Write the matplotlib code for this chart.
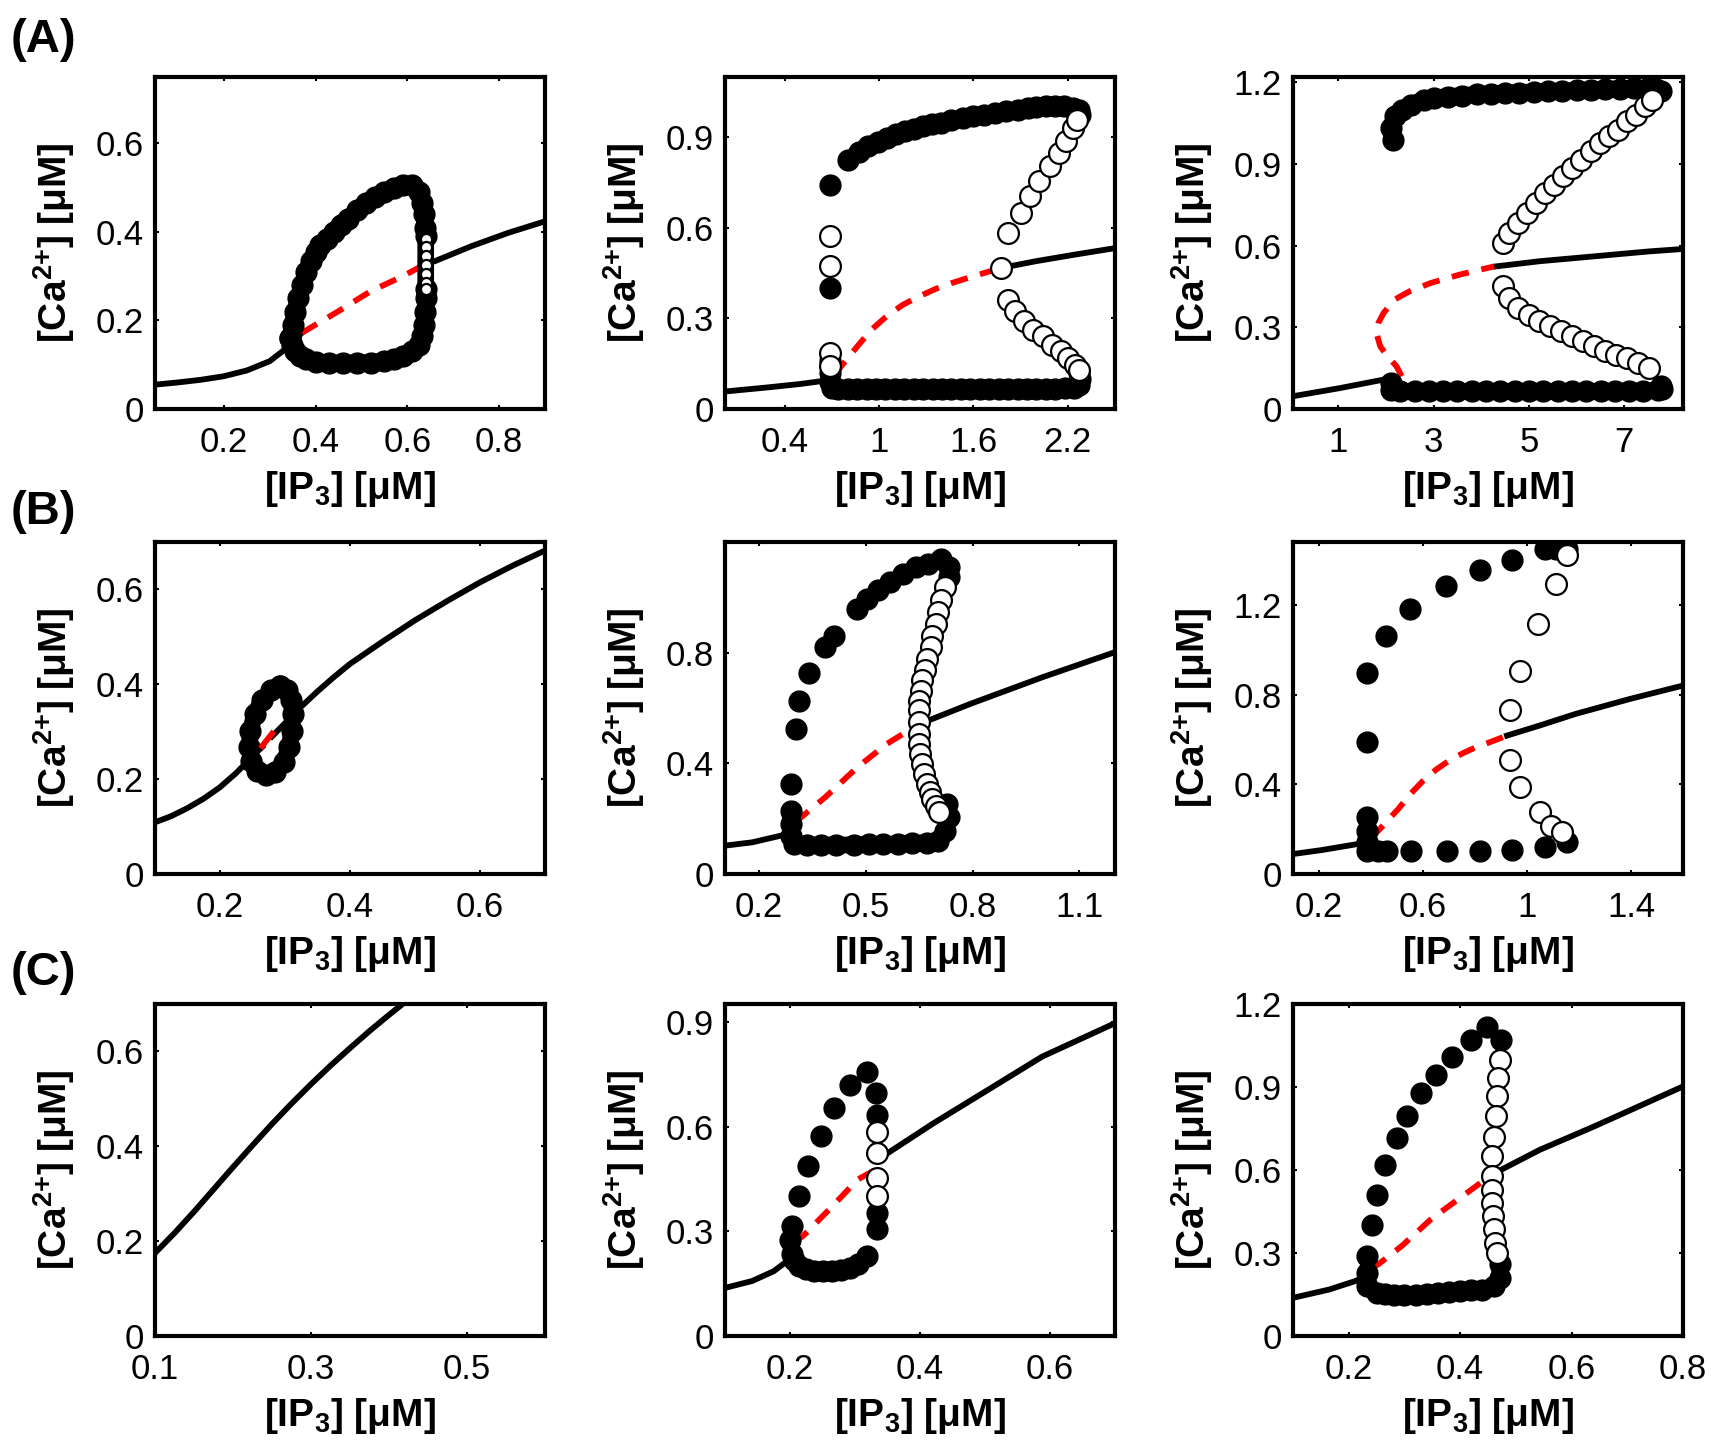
import numpy as np
import matplotlib
matplotlib.use("Agg")
import matplotlib.pyplot as plt

plt.rcParams['font.family'] = ['Liberation Sans', 'DejaVu Sans']
plt.rcParams['mathtext.fontset'] = 'custom'
plt.rcParams['mathtext.rm'] = 'Liberation Sans:bold'
plt.rcParams['mathtext.it'] = 'Liberation Sans:bold'
plt.rcParams['mathtext.bf'] = 'Liberation Sans:bold'
plt.rcParams['mathtext.default'] = 'rm'

nan = np.nan

# ---------------- (A) left ----------------
a1_xlim, a1_ylim = (0.05, 0.9), (0, 0.75)
a1_xticks, a1_yticks = [0.2, 0.4, 0.6, 0.8], [0, 0.2, 0.4, 0.6]
a1_line_x = [0.05, 0.1, 0.15, 0.2, 0.25, 0.3, 0.34, 0.37, nan, 0.635, 0.66, 0.74, 0.82, 0.90]
a1_line_y = [0.055, 0.06, 0.066, 0.074, 0.087, 0.108, 0.14, 0.172, nan,
             0.325, 0.334, 0.368, 0.398, 0.424]
a1_red_x = [0.37, 0.45, 0.52, 0.59, 0.635]
a1_red_y = [0.172, 0.221, 0.266, 0.300, 0.325]
a1_fill_x = [0.345, 0.35, 0.355, 0.362, 0.37, 0.38, 0.39, 0.40, 0.41, 0.425, 0.44, 0.455, 0.47,
             0.49, 0.51, 0.53, 0.55, 0.57, 0.59, 0.61, 0.625, 0.632, 0.636, 0.638, 0.64,
             0.64, 0.64, 0.638, 0.636, 0.632, 0.625, 0.61, 0.59, 0.57, 0.55, 0.52, 0.49, 0.46,
             0.43, 0.40, 0.38, 0.365, 0.355, 0.348, 0.345]
a1_fill_y = [0.16, 0.19, 0.22, 0.25, 0.28, 0.31, 0.335, 0.355, 0.37, 0.385, 0.40, 0.415, 0.43,
             0.45, 0.465, 0.48, 0.49, 0.50, 0.505, 0.505, 0.49, 0.465, 0.44, 0.41, 0.39,
             0.27, 0.25, 0.22, 0.19, 0.165, 0.145, 0.13, 0.12, 0.113, 0.108, 0.105, 0.104, 0.104,
             0.104, 0.106, 0.112, 0.12, 0.132, 0.145, 0.16]
a1_open_x = [0.64, 0.64, 0.64, 0.64, 0.64, 0.64, 0.64]
a1_open_y = [0.385, 0.365, 0.345, 0.325, 0.305, 0.285, 0.27]

# ---------------- (A) middle ----------------
a2_xlim, a2_ylim = (0.02, 2.5), (0, 1.1)
a2_xticks, a2_yticks = [0.4, 1, 1.6, 2.2], [0, 0.3, 0.6, 0.9]
a2_line_x = [0.02, 0.3, 0.5, 0.7, nan, 1.773, 2.0, 2.25, 2.5]
a2_line_y = [0.058, 0.072, 0.083, 0.097, nan, 0.467, 0.49, 0.512, 0.533]
a2_red_x = [0.72, 0.758, 0.862, 0.95, 1.047, 1.15, 1.254, 1.36, 1.46, 1.6, 1.773]
a2_red_y = [0.11, 0.141, 0.208, 0.262, 0.307, 0.345, 0.373, 0.398, 0.417, 0.44, 0.467]
a2_top_x = [0.804, 0.87, 0.931, 0.99, 1.047, 1.105, 1.162, 1.22, 1.278, 1.335, 1.393, 1.46, 1.531,
            1.60, 1.67, 1.74, 1.808, 1.88, 1.946, 2.0, 2.061, 2.12, 2.177, 2.23, 2.27, 2.28]
a2_top_y = [0.826, 0.85, 0.87, 0.885, 0.898, 0.91, 0.92, 0.929, 0.937, 0.943, 0.948, 0.956, 0.964,
            0.97, 0.975, 0.98, 0.986, 0.992, 0.997, 1.0, 1.003, 1.004, 1.003, 0.998, 0.99, 0.975]
a2_low_x = [0.689, 0.689, 0.689, 0.70, 0.74, 0.80, 0.86, 0.92, 0.98, 1.04, 1.10, 1.16, 1.22, 1.28,
            1.34, 1.40, 1.46, 1.52, 1.58, 1.64, 1.70, 1.76, 1.82, 1.88, 1.94, 2.00, 2.06, 2.12,
            2.18, 2.24, 2.27, 2.28, 2.27]
a2_low_y = [0.16, 0.12, 0.09, 0.07, 0.066, 0.066, 0.066, 0.066, 0.066, 0.066, 0.066, 0.066, 0.066,
            0.066, 0.066, 0.066, 0.066, 0.066, 0.066, 0.066, 0.066, 0.066, 0.066, 0.066, 0.066,
            0.066, 0.066, 0.067, 0.068, 0.07, 0.08, 0.10, 0.12]
a2_dot_x = [0.689, 0.689]
a2_dot_y = [0.743, 0.401]
a2_open_x = [0.689, 0.689, 0.689, 0.689, 1.773,
             1.820, 1.900, 1.958, 2.016, 2.085, 2.143, 2.189, 2.235, 2.258,
             1.82, 1.866, 1.924, 1.981, 2.039, 2.097, 2.154, 2.20, 2.246, 2.269]
a2_open_y = [0.572, 0.473, 0.186, 0.141, 0.467,
             0.583, 0.649, 0.705, 0.754, 0.804, 0.848, 0.887, 0.931, 0.959,
             0.362, 0.324, 0.29, 0.263, 0.241, 0.213, 0.191, 0.169, 0.147, 0.13]

# ---------------- (A) right ----------------
a3_xlim, a3_ylim = (0.05, 8.23), (0, 1.22)
a3_xticks, a3_yticks = [1, 3, 5, 7], [0, 0.3, 0.6, 0.9, 1.2]
a3_line_x = [0.05, 1.04, 1.95, nan, 4.31, 5.22, 6.37, 7.51, 8.23]
a3_line_y = [0.047, 0.077, 0.108, nan, 0.524, 0.543, 0.561, 0.579, 0.588]
a3_red_x = [2.33, 2.22, 2.03, 1.88, 1.80, 1.84, 1.95, 2.18, 2.49, 2.94, 3.55, 4.27]
a3_red_y = [0.12, 0.157, 0.194, 0.23, 0.279, 0.316, 0.353, 0.402, 0.432, 0.463, 0.494, 0.524]
a3_top_x = [2.14, 2.10, 2.18, 2.33, 2.52, 2.79, 3.0, 3.3, 3.6, 3.9, 4.2, 4.5, 4.8, 5.1, 5.4, 5.7,
            6.0, 6.3, 6.6, 6.9, 7.2, 7.5, 7.66, 7.77]
a3_top_y = [0.99, 1.033, 1.076, 1.10, 1.118, 1.137, 1.143, 1.148, 1.152, 1.156, 1.159, 1.161,
            1.163, 1.165, 1.167, 1.169, 1.171, 1.173, 1.175, 1.177, 1.178, 1.178, 1.175, 1.167]
a3_low_x = [2.10, 2.10, 2.3, 2.6, 2.9, 3.2, 3.5, 3.8, 4.1, 4.4, 4.7, 5.0, 5.3, 5.6, 5.9, 6.2,
            6.5, 6.8, 7.1, 7.4, 7.7, 7.8, 7.77]
a3_low_y = [0.096, 0.07, 0.065, 0.065, 0.065, 0.065, 0.065, 0.065, 0.065, 0.065, 0.065, 0.065,
            0.065, 0.065, 0.065, 0.065, 0.065, 0.066, 0.066, 0.067, 0.068, 0.075, 0.085]
a3_open_x = [4.46, 4.58, 4.77, 4.96, 5.15, 5.34, 5.53, 5.72, 5.91, 6.10, 6.29, 6.48, 6.67, 6.86,
             7.05, 7.24, 7.43, 7.58,
             4.46, 4.58, 4.77, 4.99, 5.22, 5.45, 5.68, 5.91, 6.14, 6.37, 6.59, 6.82, 7.05,
             7.28, 7.51]
a3_open_y = [0.61, 0.647, 0.684, 0.72, 0.757, 0.794, 0.824, 0.855, 0.886, 0.916, 0.947, 0.978,
             1.002, 1.027, 1.057, 1.082, 1.112, 1.137,
             0.451, 0.408, 0.371, 0.347, 0.322, 0.304, 0.285, 0.267, 0.249, 0.23, 0.212, 0.20,
             0.187, 0.169, 0.151]

# ---------------- (B) left ----------------
b1_xlim, b1_ylim = (0.1, 0.7), (0, 0.7)
b1_xticks, b1_yticks = [0.2, 0.4, 0.6], [0, 0.2, 0.4, 0.6]
b1_line_x = [0.1, 0.125, 0.15, 0.175, 0.2, 0.225, 0.25, 0.265, nan,
             0.28, 0.3, 0.325, 0.35, 0.375, 0.4, 0.45, 0.5, 0.55, 0.6, 0.65, 0.7]
b1_line_y = [0.109, 0.122, 0.139, 0.159, 0.183, 0.213, 0.248, 0.268, nan,
             0.29, 0.318, 0.353, 0.385, 0.415, 0.443, 0.49, 0.535, 0.576, 0.615, 0.65, 0.682]
b1_red_x = [0.265, 0.28]
b1_red_y = [0.27, 0.296]
b1_loop_x = [0.2925, 0.3037, 0.3093, 0.3120, 0.3104, 0.3065, 0.2981, 0.2841, 0.2702, 0.2562,
             0.2479, 0.2451, 0.2468, 0.2535, 0.2646, 0.2786, 0.2925]
b1_loop_y = [0.397, 0.387, 0.366, 0.338, 0.3025, 0.267, 0.236, 0.2146, 0.2096, 0.218, 0.239,
             0.267, 0.3025, 0.338, 0.366, 0.387, 0.397]

# ---------------- (B) middle ----------------
b2_xlim, b2_ylim = (0.105, 1.2), (0, 1.2)
b2_xticks, b2_yticks = [0.2, 0.5, 0.8, 1.1], [0, 0.4, 0.8]
b2_line_x = [0.105, 0.182, 0.263, 0.294, nan, 0.641, 0.794, 0.998, 1.2]
b2_line_y = [0.1025, 0.1146, 0.139, 0.147, nan, 0.537, 0.615, 0.712, 0.802]
b2_red_x = [0.30, 0.319, 0.386, 0.477, 0.559, 0.636]
b2_red_y = [0.19, 0.205, 0.277, 0.386, 0.47, 0.531]
b2_top_x = [0.289, 0.304, 0.312, 0.340, 0.386, 0.411, 0.477, 0.503, 0.534, 0.569, 0.605, 0.641,
            0.676, 0.712, 0.733, 0.733]
b2_top_y = [0.326, 0.525, 0.627, 0.726, 0.82, 0.862, 0.959, 0.995, 1.025, 1.055, 1.085, 1.11,
            1.122, 1.14, 1.11, 1.073]
b2_low_x = [0.289, 0.289, 0.289, 0.299, 0.335, 0.375, 0.416, 0.467, 0.508, 0.549, 0.590, 0.631,
            0.671, 0.702, 0.722, 0.733, 0.727]
b2_low_y = [0.229, 0.181, 0.139, 0.109, 0.105, 0.105, 0.105, 0.105, 0.107, 0.107, 0.109, 0.111,
            0.113, 0.121, 0.157, 0.205, 0.253]
b2_open_x = [0.722, 0.712, 0.702, 0.697, 0.687, 0.682, 0.671, 0.666, 0.659, 0.656, 0.651, 0.649,
             0.649, 0.649, 0.651, 0.653, 0.659, 0.663, 0.671, 0.680, 0.687, 0.697, 0.707]
b2_open_y = [1.037, 0.989, 0.947, 0.905, 0.862, 0.82, 0.778, 0.736, 0.70, 0.663, 0.627, 0.591,
             0.549, 0.507, 0.47, 0.434, 0.398, 0.362, 0.326, 0.295, 0.271, 0.247, 0.223]

# ---------------- (B) right ----------------
b3_xlim, b3_ylim = (0.1, 1.6), (0, 1.48)
b3_xticks, b3_yticks = [0.2, 0.6, 1, 1.4], [0, 0.4, 0.8, 1.2]
b3_line_x = [0.1, 0.212, 0.351, 0.38, nan, 0.923, 1.049, 1.188, 1.398, 1.6]
b3_line_y = [0.089, 0.107, 0.134, 0.14, nan, 0.617, 0.662, 0.714, 0.781, 0.84]
b3_red_x = [0.40, 0.428, 0.505, 0.55, 0.6, 0.65, 0.7, 0.756, 0.8, 0.874, 0.923]
b3_red_y = [0.16, 0.193, 0.29, 0.355, 0.415, 0.465, 0.505, 0.54, 0.563, 0.595, 0.617]
b3_top_x = [0.386, 0.386, 0.456, 0.549, 0.689, 0.819, 0.944, 1.07, 1.112, 1.154]
b3_top_y = [0.588, 0.895, 1.063, 1.182, 1.282, 1.354, 1.398, 1.45, 1.45, 1.45]
b3_low_x = [0.386, 0.386, 0.386, 0.386, 0.428, 0.463, 0.553, 0.693, 0.819, 0.944, 1.07, 1.154]
b3_low_y = [0.253, 0.193, 0.141, 0.104, 0.104, 0.104, 0.104, 0.104, 0.104, 0.107, 0.119, 0.141]
b3_open_x = [1.154, 1.112, 1.042, 0.972, 0.934, 0.934, 0.972, 1.049, 1.091, 1.133]
b3_open_y = [1.42, 1.294, 1.116, 0.907, 0.729, 0.506, 0.387, 0.275, 0.216, 0.186]

# ---------------- (C) left ----------------
c1_xlim, c1_ylim = (0.1, 0.6), (0, 0.7)
c1_xticks, c1_yticks = [0.1, 0.3, 0.5], [0, 0.2, 0.4, 0.6]
c1_line_x = [0.1, 0.125, 0.15, 0.175, 0.2, 0.225, 0.25, 0.275, 0.3, 0.325, 0.35, 0.375, 0.4, 0.425]
c1_line_y = [0.175, 0.217, 0.262, 0.309, 0.356, 0.402, 0.447, 0.49, 0.531, 0.57, 0.607, 0.643,
             0.677, 0.71]

# ---------------- (C) middle ----------------
c2_xlim, c2_ylim = (0.1, 0.7), (0, 0.953)
c2_xticks, c2_yticks = [0.2, 0.4, 0.6], [0, 0.3, 0.6, 0.9]
c2_line_x = [0.1, 0.142, 0.175, 0.192, 0.2, nan, 0.343, 0.421, 0.505, 0.588, 0.7]
c2_line_y = [0.138, 0.158, 0.186, 0.21, 0.22, nan, 0.516, 0.611, 0.707, 0.802, 0.898]
c2_red_x = [0.205, 0.22, 0.265, 0.304, 0.334]
c2_red_y = [0.27, 0.287, 0.372, 0.449, 0.48]
c2_top_x = [0.203, 0.214, 0.228, 0.248, 0.267, 0.293, 0.318, 0.332, 0.334, 0.334, 0.334]
c2_top_y = [0.315, 0.401, 0.487, 0.573, 0.654, 0.721, 0.759, 0.697, 0.635, 0.353, 0.306]
c2_low_x = [0.318, 0.305, 0.293, 0.279, 0.265, 0.251, 0.237, 0.225, 0.214, 0.206, 0.203, 0.200]
c2_low_y = [0.229, 0.208, 0.196, 0.19, 0.186, 0.186, 0.186, 0.192, 0.201, 0.218, 0.234, 0.277]
c2_open_x = [0.334, 0.334, 0.334, 0.334]
c2_open_y = [0.587, 0.525, 0.454, 0.401]

# ---------------- (C) right ----------------
c3_xlim, c3_ylim = (0.1, 0.8), (0, 1.2)
c3_xticks, c3_yticks = [0.2, 0.4, 0.6, 0.8], [0, 0.3, 0.6, 0.9, 1.2]
c3_line_x = [0.1, 0.165, 0.211, 0.23, nan, 0.468, 0.543, 0.64, 0.8]
c3_line_y = [0.138, 0.168, 0.198, 0.215, nan, 0.595, 0.673, 0.757, 0.902]
c3_red_x = [0.24, 0.253, 0.295, 0.347, 0.412, 0.465]
c3_red_y = [0.245, 0.259, 0.325, 0.421, 0.517, 0.595]
c3_top_x = [0.233, 0.241, 0.251, 0.266, 0.286, 0.305, 0.329, 0.357, 0.385, 0.419, 0.448, 0.474]
c3_top_y = [0.289, 0.403, 0.511, 0.619, 0.715, 0.796, 0.878, 0.944, 1.008, 1.07, 1.116, 1.07]
c3_low_x = [0.471, 0.471, 0.461, 0.439, 0.42, 0.399, 0.38, 0.36, 0.34, 0.321, 0.30, 0.282,
            0.265, 0.25, 0.233, 0.233]
c3_low_y = [0.259, 0.21, 0.18, 0.168, 0.165, 0.162, 0.159, 0.156, 0.153, 0.150, 0.150, 0.150,
            0.152, 0.156, 0.18, 0.228]
c3_open_x = [0.471, 0.468, 0.466, 0.465, 0.461, 0.458, 0.457, 0.457, 0.458, 0.459, 0.461,
             0.463, 0.466]
c3_open_y = [0.998, 0.932, 0.866, 0.794, 0.721, 0.649, 0.577, 0.529, 0.481, 0.433, 0.385,
             0.337, 0.30]

MS = 15
RED = '#ff0000'


def draw(ax, line, red=None, dense=(), sparse=(), opens=None, open_ms=MS):
    ax.plot(line[0], line[1], color='k', lw=4.2, zorder=2)
    if red is not None:
        ax.plot(red[0], red[1], color=RED, lw=4.2, dashes=(3.0, 2.2), zorder=2)
    for xs, ys in dense:
        ax.plot(xs, ys, color='k', lw=12, solid_capstyle='round', solid_joinstyle='round',
                marker='o', ms=MS, mfc='k', mec='k', zorder=3)
    for xs, ys in sparse:
        ax.plot(xs, ys, ls='none', marker='o', ms=MS, mfc='k', mec='k', zorder=3)
    if opens is not None:
        ax.plot(opens[0], opens[1], ls='none', marker='o', ms=open_ms, mfc='w', mec='k', mew=1.6,
                zorder=4)


def style(ax, xlim, ylim, xticks, yticks):
    ax.set_xlim(*xlim)
    ax.set_ylim(*ylim)
    ax.set_xticks(xticks)
    ax.set_yticks(yticks)
    ax.set_xticklabels(['%g' % t for t in xticks])
    ax.set_yticklabels(['%g' % t for t in yticks])
    for s in ax.spines.values():
        s.set_linewidth(3)
    ax.tick_params(direction='in', top=True, right=True, length=3, width=1.5, labelsize=25)
    ax.tick_params(axis='x', pad=12)
    ax.tick_params(axis='y', pad=8)
    ax.set_xlabel('[IP$_3$] [μM]', fontsize=28, fontweight='bold')
    ax.set_ylabel('[Ca$^{2{+}}$] [μM]', fontsize=28, fontweight='bold')
    ax.xaxis.set_label_coords(0.5, -0.18)
    ax.yaxis.set_label_coords(-0.2, 0.5)


W, H = 1711, 1452
fig = plt.figure(figsize=(W / 100, H / 100), dpi=100)
lefts = [155, 725, 1293]
tops = [77, 542, 1004]
aw, ah = 390, 332
axes = [[fig.add_axes([l / W, 1 - (t + ah) / H, aw / W, ah / H]) for l in lefts] for t in tops]

ax = axes[0][0]
draw(ax, (a1_line_x, a1_line_y), (a1_red_x, a1_red_y), dense=[(a1_fill_x, a1_fill_y)],
     opens=(a1_open_x, a1_open_y), open_ms=8)
style(ax, a1_xlim, a1_ylim, a1_xticks, a1_yticks)

ax = axes[0][1]
draw(ax, (a2_line_x, a2_line_y), (a2_red_x, a2_red_y),
     dense=[(a2_top_x, a2_top_y), (a2_low_x, a2_low_y)], sparse=[(a2_dot_x, a2_dot_y)],
     opens=(a2_open_x, a2_open_y))
style(ax, a2_xlim, a2_ylim, a2_xticks, a2_yticks)

ax = axes[0][2]
draw(ax, (a3_line_x, a3_line_y), (a3_red_x, a3_red_y),
     dense=[(a3_top_x, a3_top_y), (a3_low_x, a3_low_y)], opens=(a3_open_x, a3_open_y))
style(ax, a3_xlim, a3_ylim, a3_xticks, a3_yticks)

ax = axes[1][0]
draw(ax, (b1_line_x, b1_line_y), None, dense=[(b1_loop_x, b1_loop_y)])
ax.plot(b1_red_x, b1_red_y, color=RED, lw=4.2, zorder=5)
style(ax, b1_xlim, b1_ylim, b1_xticks, b1_yticks)

ax = axes[1][1]
draw(ax, (b2_line_x, b2_line_y), (b2_red_x, b2_red_y), dense=[(b2_low_x, b2_low_y)],
     sparse=[(b2_top_x, b2_top_y)], opens=(b2_open_x, b2_open_y))
style(ax, b2_xlim, b2_ylim, b2_xticks, b2_yticks)

ax = axes[1][2]
draw(ax, (b3_line_x, b3_line_y), (b3_red_x, b3_red_y),
     sparse=[(b3_top_x, b3_top_y), (b3_low_x, b3_low_y)], opens=(b3_open_x, b3_open_y))
style(ax, b3_xlim, b3_ylim, b3_xticks, b3_yticks)

ax = axes[2][0]
draw(ax, (c1_line_x, c1_line_y))
style(ax, c1_xlim, c1_ylim, c1_xticks, c1_yticks)

ax = axes[2][1]
draw(ax, (c2_line_x, c2_line_y), (c2_red_x, c2_red_y), dense=[(c2_low_x, c2_low_y)],
     sparse=[(c2_top_x, c2_top_y)], opens=(c2_open_x, c2_open_y))
style(ax, c2_xlim, c2_ylim, c2_xticks, c2_yticks)

ax = axes[2][2]
draw(ax, (c3_line_x, c3_line_y), (c3_red_x, c3_red_y), dense=[(c3_low_x, c3_low_y)],
     sparse=[(c3_top_x, c3_top_y)], opens=(c3_open_x, c3_open_y))
style(ax, c3_xlim, c3_ylim, c3_xticks, c3_yticks)

for lab, yc in zip(['(A)', '(B)', '(C)'], [40, 512, 973]):
    fig.text(11 / W, 1 - yc / H, lab, fontsize=34, fontweight='bold', va='center', ha='left')

fig.savefig('out.png', dpi=100)
